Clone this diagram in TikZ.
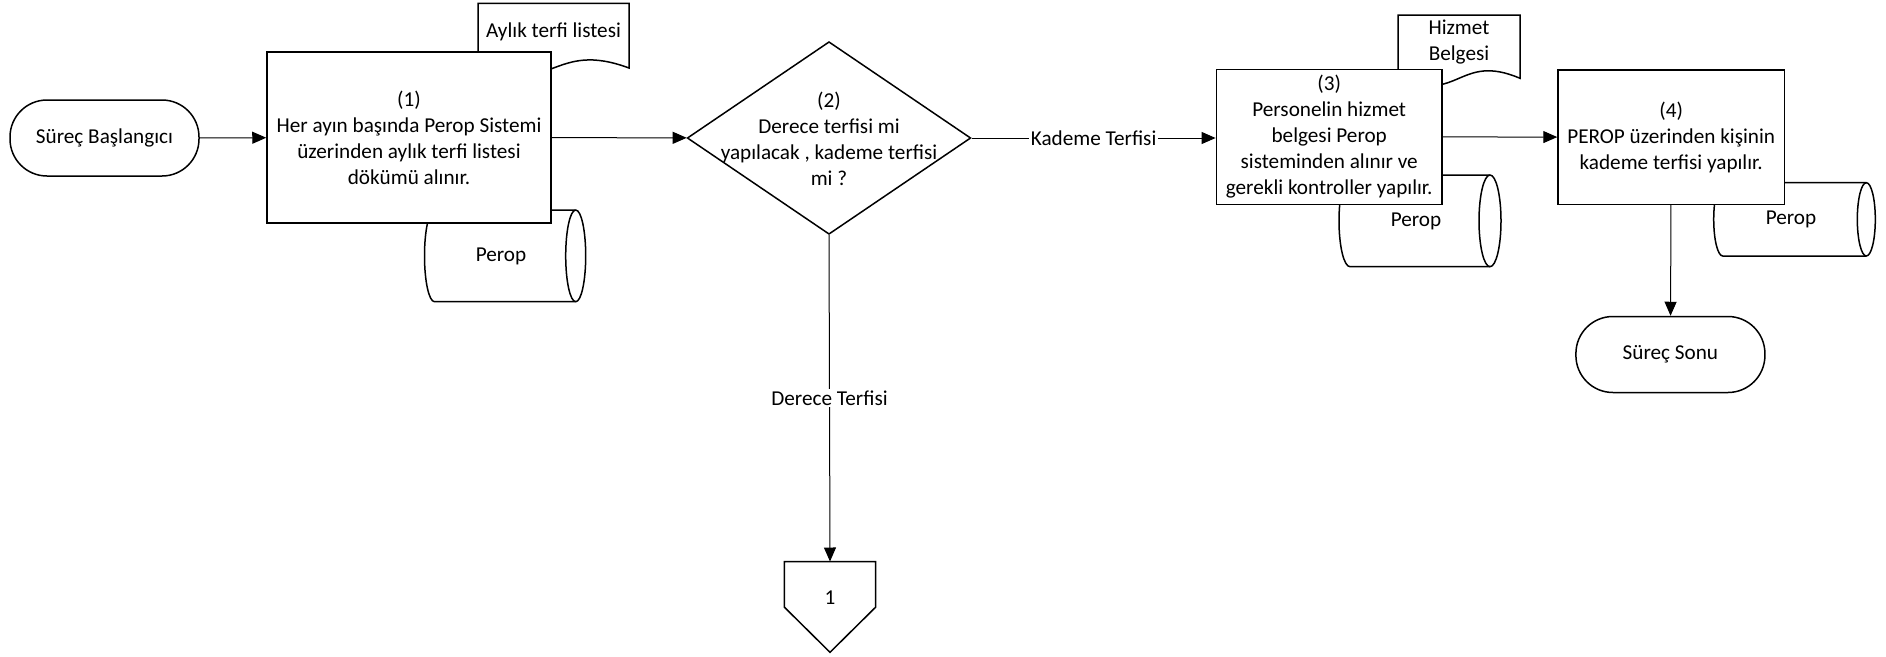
\documentclass[tikz,border=0pt]{standalone}
\usepackage{fontspec}
\setmainfont{Carlito}
\usetikzlibrary{arrows.meta,shapes.geometric,calc}
\newcommand\mainfs{\fontsize{21.2}{26}\selectfont}
\tikzset{
  shapeline/.style={draw=black, line width=1.5pt, fill=white},
  procbox/.style={shapeline, rectangle, inner sep=0pt, align=center, font=\mainfs},
  termbox/.style={shapeline, rectangle, rounded corners=37pt, minimum width=189pt, minimum height=76pt, inner sep=0pt, font=\mainfs},
  decision/.style={shapeline, diamond, minimum width=283.6pt, minimum height=192.6pt, inner sep=0pt},
  txt/.style={inner sep=0pt, align=center, font=\mainfs},
  conn/.style={draw=black, line width=1pt, -{Triangle[length=14pt,width=12pt]}},
  edgelabel/.style={fill=white, inner sep=1.5pt, font=\mainfs},
}
% document shape: x0 x1 ytop ybottom-right wave
\newcommand\drawdoc[5]{%
  \draw[shapeline] (#1,#3) -- (#2,#3) -- (#2,#4) .. controls ({(#1+#2)/2},{#4+#5}) and ({(#1+#2)/2},{#4-#5}) .. (#1,#4) -- cycle;}
% horizontal drum: x0 x1 ytop ybot rx
\newcommand\drawcyl[5]{%
  \draw[shapeline] ({#1+#5},#3) -- ({#2-#5},#3)
     arc[start angle=90,end angle=-90,x radius=#5pt,y radius={((#3)-(#4))/2*1pt}]
     -- ({#1+#5},#4)
     arc[start angle=270,end angle=90,x radius=#5pt,y radius={((#3)-(#4))/2*1pt}] -- cycle;
  \draw[shapeline, fill=none] ({#2-#5},#3)
     arc[start angle=90,end angle=270,x radius=#5pt,y radius={((#3)-(#4))/2*1pt}];}
\begin{document}
\begin{tikzpicture}[x=1pt,y=1pt]
\fill[white] (0,0) rectangle (1886,-656);
\useasboundingbox (0,0) rectangle (1886,-656);

% start
\node[termbox] (start) at (104.5,-138) {Süreç Başlangıcı};

% step 1 with document and drum
\drawdoc{478}{629}{-3.3}{-68}{28}
\node[txt] (doc1) at (553.5,-31.7) {Aylık terfi listesi};
\drawcyl{424.5}{585.7}{-210}{-301.7}{10}
\node[txt] (cyl1) at (501,-256) {Perop};
\node[procbox, minimum width=284pt, minimum height=171pt] (p1) at (409,-137.5)
  {(1)\\Her ayın başında Perop Sistemi\\üzerinden aylık terfi listesi\\dökümü alınır.};

% decision
\node[decision] (q2) at (829,-138) {};
\node[txt] (q2t) at (829,-139) {(2)\\Derece terfisi mi\\yapılacak , kademe terfisi\\mi ?};

% step 3
\drawdoc{1398}{1520}{-15}{-78.3}{26}
\node[txt] (doc3) at (1459,-42.5) {Hizmet\\Belgesi};
\drawcyl{1339}{1501}{-175}{-266.7}{11}
\node[txt] (cyl3) at (1416,-221) {Perop};
\node[procbox, minimum width=225.7pt, minimum height=135pt] (p3) at (1329.2,-136.8)
  {(3)\\Personelin hizmet\\belgesi Perop\\sisteminden alınır ve\\gerekli kontroller yapılır.};

% step 4
\drawcyl{1713.7}{1875.3}{-182.7}{-256}{9}
\node[txt] (cyl4) at (1791,-219.5) {Perop};
\node[procbox, minimum width=226.4pt, minimum height=134.3pt] (p4) at (1671.2,-137.2)
  {(4)\\PEROP üzerinden kişinin\\kademe terfisi yapılır.};

% end
\node[termbox] (end) at (1670.4,-354.5) {Süreç Sonu};

% off-page connector
\node[txt, minimum width=91pt, minimum height=72.6pt] (off) at (830,-598) {1};
\draw[shapeline, fill=none] (off.north west) -- (off.north east) -- ++(0,-45.6)
  -- (830,-652.3) -- ($(off.north west)+(0,-45.6)$) -- cycle;

% connectors
\draw[conn] (start) -- (p1);
\draw[conn] (p1) -- (q2);
\draw[conn] (q2.east) -- node[edgelabel] (lblk) {Kademe Terfisi} (p3.west |- q2.east);
\draw[conn] (q2.south) -- node[edgelabel] (lbld) {Derece Terfisi} (off.north);
\draw[conn] (p3) -- (p4);
\draw[conn] (p4) -- (end);
\end{tikzpicture}
\end{document}
